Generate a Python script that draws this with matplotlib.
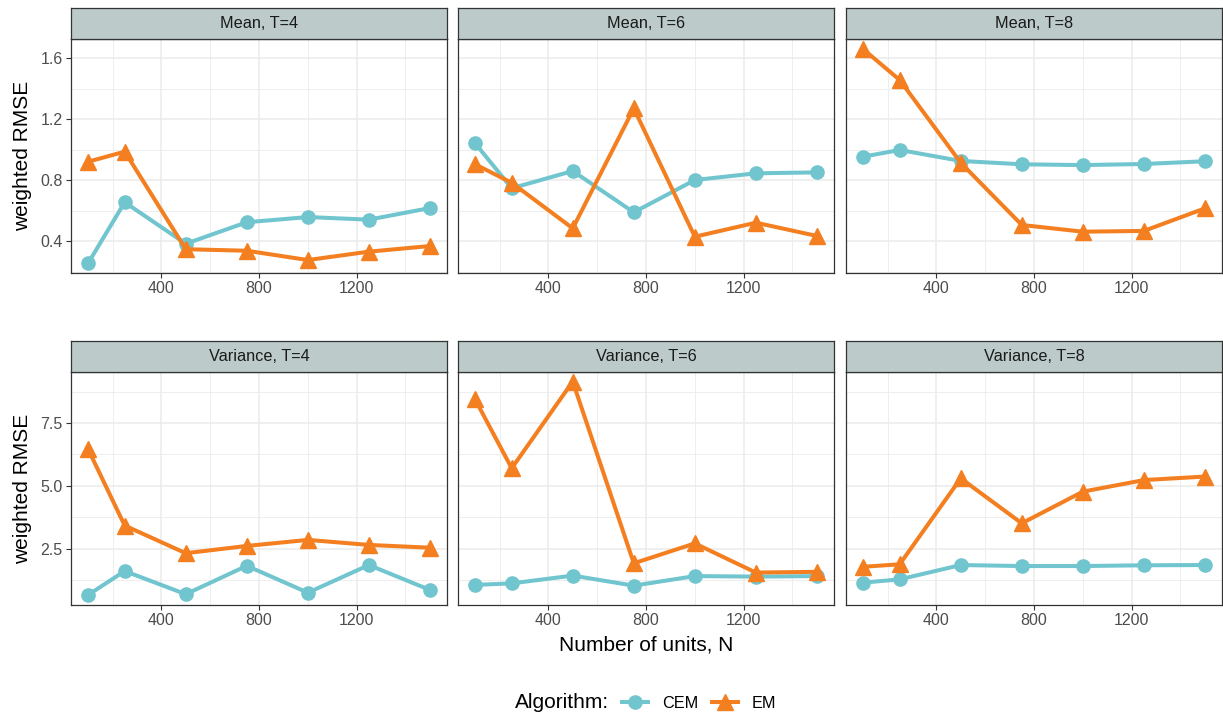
import matplotlib.pyplot as plt
from matplotlib.lines import Line2D

plt.rcParams['font.family'] = ['Liberation Sans', 'DejaVu Sans']

# sample sizes on the x axis
n_units = [100, 250, 500, 750, 1000, 1250, 1500]
t_values = [4, 6, 8]

# weighted RMSE, one list per panel
mean_cem = {
    4: [0.256, 0.656, 0.384, 0.525, 0.559, 0.542, 0.618],
    6: [1.043, 0.748, 0.861, 0.590, 0.802, 0.846, 0.852],
    8: [0.955, 0.999, 0.927, 0.905, 0.900, 0.907, 0.925],
}
mean_em = {
    4: [0.922, 0.988, 0.348, 0.338, 0.277, 0.332, 0.369],
    6: [0.905, 0.784, 0.485, 1.272, 0.430, 0.522, 0.435],
    8: [1.661, 1.458, 0.915, 0.507, 0.463, 0.468, 0.616],
}
var_cem = {
    4: [0.66, 1.61, 0.69, 1.82, 0.75, 1.85, 0.86],
    6: [1.06, 1.12, 1.43, 1.03, 1.41, 1.39, 1.41],
    8: [1.15, 1.28, 1.85, 1.81, 1.81, 1.84, 1.85],
}
var_em = {
    4: [6.46, 3.42, 2.32, 2.61, 2.85, 2.65, 2.54],
    6: [8.44, 5.70, 9.15, 1.92, 2.71, 1.55, 1.58],
    8: [1.78, 1.88, 5.30, 3.51, 4.77, 5.23, 5.37],
}

CEM_COL = "#71C5CE"
EM_COL = "#F47F20"
STRIP_COL = "#BCCBCA"
BORDER = "#333333"
GRID = "#EBEBEB"
TICK_COL = "#4D4D4D"

W, H = 1223, 717
fig = plt.figure(figsize=(W / 100, H / 100), dpi=100)

col_left = [71, 458, 846]
col_width = 376
rows = [
    dict(name="Mean", cem=mean_cem, em=mean_em, top=39, bottom=273,
         ylim=(0.192, 1.727), major=[0.4, 0.8, 1.2, 1.6], minor=[0.2, 0.6, 1.0, 1.4],
         fmt="{:.1f}"),
    dict(name="Variance", cem=var_cem, em=var_em, top=372, bottom=605,
         ylim=(0.26, 9.53), major=[2.5, 5.0, 7.5], minor=[1.25, 3.75, 6.25, 8.75],
         fmt="{:.1f}"),
]
strip_h = 31


def fig_box(x0, y0, w, h):
    return [x0 / W, 1 - (y0 + h) / H, w / W, h / H]


for row in rows:
    for j, t in enumerate(t_values):
        x0 = col_left[j]
        ax = fig.add_axes(fig_box(x0, row["top"], col_width, row["bottom"] - row["top"]))
        ax.set_xlim(30, 1570)
        ax.set_ylim(*row["ylim"])
        ax.set_xticks([400, 800, 1200])
        ax.set_xticks([200, 600, 1000, 1400], minor=True)
        ax.set_yticks(row["major"])
        ax.set_yticks(row["minor"], minor=True)
        ax.grid(True, which="major", color=GRID, linewidth=1.1, zorder=0)
        ax.grid(True, which="minor", color=GRID, linewidth=0.6, zorder=0)
        ax.set_axisbelow(True)
        for s in ax.spines.values():
            s.set_color(BORDER)
            s.set_linewidth(0.9)
        ax.tick_params(which="minor", length=0)
        ax.tick_params(which="major", length=3.5, width=0.8, color=BORDER,
                       labelcolor=TICK_COL, labelsize=11.5, pad=2.5)
        if j == 0:
            ax.set_yticklabels([row["fmt"].format(v) for v in row["major"]])
            ax.set_ylabel("weighted RMSE", fontsize=15, labelpad=6)
        else:
            ax.tick_params(axis="y", which="both", length=0, labelleft=False)

        ax.plot(n_units, row["cem"][t], color=CEM_COL, lw=2.9, marker="o",
                markersize=9.5, zorder=3, clip_on=False)
        ax.plot(n_units, row["em"][t], color=EM_COL, lw=2.9, marker="^",
                markersize=11, zorder=4, clip_on=False)

        sax = fig.add_axes(fig_box(x0, row["top"] - strip_h, col_width, strip_h))
        sax.set_facecolor(STRIP_COL)
        sax.set_xticks([])
        sax.set_yticks([])
        for s in sax.spines.values():
            s.set_color(BORDER)
            s.set_linewidth(0.9)
        sax.text(0.5, 0.5, f"{row['name']}, T={t}", ha="center", va="center",
                 fontsize=11.7, color="#1A1A1A", transform=sax.transAxes)

fig.text(646 / W, 1 - 645 / H, "Number of units, N", ha="center", va="center", fontsize=15)

fig.text(515 / W, 1 - 703 / H, "Algorithm:", ha="left", va="center", fontsize=15)
handles = [
    Line2D([], [], color=CEM_COL, lw=2.9, marker="o", markersize=9.5),
    Line2D([], [], color=EM_COL, lw=2.9, marker="^", markersize=11),
]
fig.legend(handles, ["CEM", "EM"], loc="center left",
           bbox_to_anchor=(622 / W, 1 - 703 / H), ncol=2, frameon=False,
           borderpad=0, borderaxespad=0,
           fontsize=11.7, handlelength=1.6, handletextpad=0.85, columnspacing=0.85)

fig.savefig("out.png", dpi=100)
